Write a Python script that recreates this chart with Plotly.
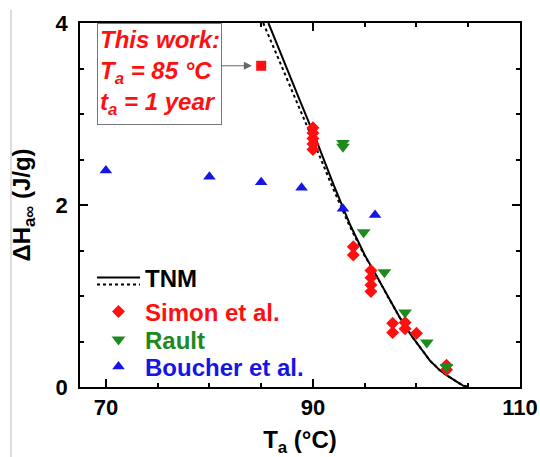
import plotly.graph_objects as go

# ---- data ----
simon_T = [90.0, 90.0, 90.0, 90.0, 90.0, 93.9, 93.9, 95.6, 95.6, 95.6, 95.6,
           97.7, 97.7, 98.9, 98.9, 100.0, 102.9, 102.9]
simon_H = [2.85, 2.79, 2.73, 2.67, 2.61, 1.54, 1.45, 1.28, 1.20, 1.12, 1.05,
           0.70, 0.60, 0.71, 0.64, 0.59, 0.24, 0.19]

rault_T = [92.9, 92.9, 94.9, 96.9, 98.9, 101.0, 102.9]
rault_H = [2.68, 2.64, 1.70, 1.26, 0.82, 0.49, 0.22]

boucher_T = [70.0, 80.0, 85.0, 88.9, 92.9, 96.0]
boucher_H = [2.38, 2.31, 2.25, 2.19, 1.96, 1.89]

this_T = [85.0]
this_H = [3.53]

tnm_T = [85.7, 87.0, 88.8, 90.5, 92.0, 93.6, 95.0, 96.0, 97.4, 98.4, 99.6,
         100.5, 101.3, 102.2, 102.9, 104.0, 104.5, 105.0]
tnm_H = [4.0, 3.63, 3.13, 2.66, 2.22, 1.78, 1.45, 1.25, 0.96, 0.76, 0.55,
         0.41, 0.29, 0.19, 0.13, 0.05, 0.015, 0.0]

tnm2_T = [85.2, 86.6, 88.45, 90.2, 91.8, 93.5, 94.95, 96.0, 97.4, 98.4, 99.6,
          100.5, 101.3, 102.2, 102.9, 104.0, 104.5, 105.0]
tnm2_H = [4.0, 3.63, 3.13, 2.66, 2.22, 1.78, 1.45, 1.25, 0.96, 0.76, 0.55,
          0.41, 0.29, 0.19, 0.13, 0.05, 0.015, 0.0]

x_ticks = [70, 90, 110]
y_ticks = [0, 2, 4]

RED = "#ff1010"
GREEN = "#1e8a1e"
BLUE = "#1515e6"
FONT = "Liberation Sans, Arial, sans-serif"

fig = go.Figure()

fig.add_trace(go.Scatter(x=tnm_T, y=tnm_H, mode="lines", name="TNM",
                         line=dict(color="black", width=2), legend="legend"))
fig.add_trace(go.Scatter(x=tnm2_T, y=tnm2_H, mode="lines", name=" ",
                         line=dict(color="black", width=2, dash="dot"),
                         legend="legend2"))
fig.add_trace(go.Scatter(x=simon_T, y=simon_H, mode="markers",
                         name=f"<span style='color:{RED}'>Simon et al.</span>",
                         marker=dict(symbol="diamond", size=10, color=RED),
                         legend="legend3"))
fig.add_trace(go.Scatter(x=rault_T, y=rault_H, mode="markers",
                         name=f"<span style='color:{GREEN}'>Rault</span>",
                         marker=dict(symbol="triangle-down", size=12, color=GREEN),
                         legend="legend4"))
fig.add_trace(go.Scatter(x=boucher_T, y=boucher_H, mode="markers",
                         name=f"<span style='color:{BLUE}'>Boucher et al.</span>",
                         marker=dict(symbol="triangle-up", size=11, color=BLUE),
                         legend="legend5"))
fig.add_trace(go.Scatter(x=this_T, y=this_H, mode="markers", showlegend=False,
                         marker=dict(symbol="square", size=10, color=RED)))

# plot area: left 80, right 520, top 23, bottom 387 (px)
def py2paper(py):
    return (387 - py) / 364.0

lx = (92 - 80) / 440.0
leg_common = dict(x=lx, xanchor="left", yanchor="middle", bgcolor="rgba(0,0,0,0)",
                  borderwidth=0, itemwidth=43,
                  font=dict(family=FONT, size=24, color="black", weight="bold"))
legends = {}
for key, py in [("legend", 278), ("legend2", 285), ("legend3", 312),
                ("legend4", 340), ("legend5", 367)]:
    legends[key] = dict(y=py2paper(py), **leg_common)

axis_common = dict(showline=True, linecolor="black", linewidth=1.5, mirror="ticks",
                   ticks="inside", ticklen=8, tickwidth=1.5, tickcolor="black",
                   showgrid=False, zeroline=False, automargin=False,
                   tickfont=dict(family=FONT, size=22, color="black", weight="bold"))

fig.update_layout(
    width=540, height=457,
    margin=dict(l=80, r=20, t=23, b=70),
    plot_bgcolor="white", paper_bgcolor="white",
    font=dict(family=FONT, color="black"),
    xaxis=dict(range=[67.5, 110], tickvals=x_ticks,
               minor=dict(dtick=5, tick0=70, ticks="inside", ticklen=4,
                          tickwidth=1.5, tickcolor="black"),
               title=dict(text="T<sub>a</sub> (°C)", standoff=14,
                          font=dict(family=FONT, size=24, color="black", weight="bold")),
               **axis_common),
    yaxis=dict(range=[0, 4], tickvals=y_ticks,
               minor=dict(dtick=0.5, tick0=0, ticks="inside", ticklen=4,
                          tickwidth=1.5, tickcolor="black"),
               ticklabelstandoff=6,
               title=dict(text="ΔH<sub>a∞</sub> (J/g)", standoff=18,
                          font=dict(family=FONT, size=24, color="black", weight="bold")),
               **axis_common),
    showlegend=True,
    **legends,
)

# "This work" text box
fig.add_annotation(
    xref="paper", yref="paper", x=(97 - 80) / 440.0, y=1.0,
    xanchor="left", yanchor="top", align="left", valign="top",
    text="This work:<br>T<sub>a</sub> = 85 °C<br>t<sub>a</sub> = 1 year",
    font=dict(family=FONT, size=24, color=RED, weight="bold", style="italic"),
    showarrow=False, bgcolor="white", bordercolor="#777777", borderwidth=1,
    borderpad=2, width=119, height=96,
)
# arrow from box to the square
fig.add_annotation(
    x=84.1, y=3.53, ax=81.0, ay=3.53, xref="x", yref="y", axref="x", ayref="y",
    text="", showarrow=True, arrowhead=2, arrowsize=1.6, arrowwidth=1,
    arrowcolor="#666666",
)

# thin gray frame line at far left of the reference image
fig.add_shape(type="line", xref="paper", yref="paper",
              x0=(11 - 80) / 440.0, x1=(11 - 80) / 440.0,
              y0=py2paper(457), y1=py2paper(10),
              line=dict(color="#bbbbbb", width=1))

fig.write_html("out.html", config={"displayModeBar": False},
               post_script="document.body.style.margin='0';document.body.style.overflow='hidden';")
